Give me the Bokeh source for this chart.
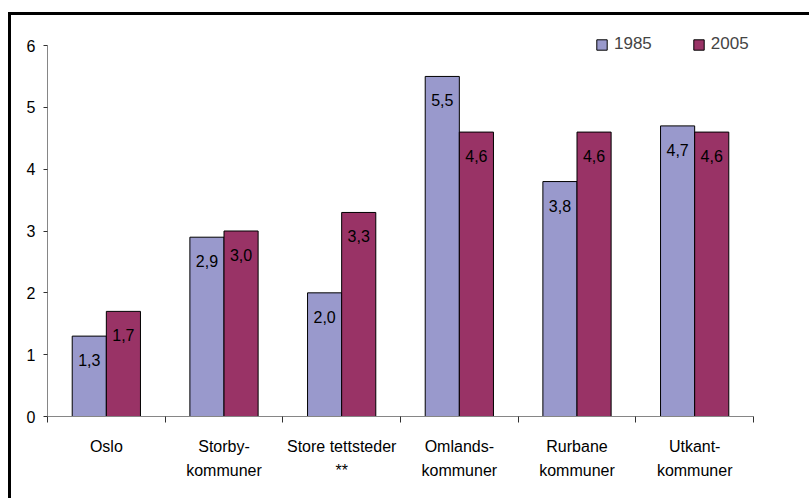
from bokeh.plotting import figure
from bokeh.models import ColumnDataSource, FixedTicker, Legend, LegendItem, Range1d, Div, Spacer
from bokeh.layouts import row, column
from bokeh.core.properties import value
from bokeh.embed import file_html
from bokeh.resources import INLINE

categories = ["Oslo", "Storby-\nkommuner", "Store tettsteder\n**",
              "Omlands-\nkommuner", "Rurbane\nkommuner", "Utkant-\nkommuner"]
series_names = ["1985", "2005"]
values_1985 = [1.3, 2.9, 2.0, 5.5, 3.8, 4.7]
values_2005 = [1.7, 3.0, 3.3, 4.6, 4.6, 4.6]
y_ticks = [0, 1, 2, 3, 4, 5, 6]
colors = ["#9999CC", "#993366"]

FONT = "Liberation Sans"
W, H = 798, 483


def fmt(v):
    return f"{v:.1f}".replace(".", ",")


n = len(categories)
idx = list(range(1, n + 1))
bw = 0.29

p = figure(width=W, height=H, x_range=Range1d(0.5, n + 0.5), y_range=Range1d(0, 6.243),
           output_backend="svg", toolbar_location=None,
           min_border_left=36, min_border_top=15, min_border_right=56, min_border_bottom=82)
p.margin = 0
p.outline_line_color = None
p.xgrid.grid_line_color = None
p.ygrid.grid_line_color = None
p.background_fill_color = "white"
p.border_fill_color = "white"

renderers = []
for k, (vals, col, off) in enumerate([(values_1985, colors[0], -bw / 2), (values_2005, colors[1], bw / 2)]):
    src = ColumnDataSource(dict(x=[i + off for i in idx], top=vals, label=[fmt(v) for v in vals]))
    r = p.vbar(x="x", top="top", bottom=0, width=bw, source=src,
               fill_color=col, line_color="black", line_width=1)
    renderers.append(r)
    p.text(x="x", y="top", text="label", source=src, text_align="center",
           text_baseline="middle", y_offset=24, text_font=value(FONT),
           text_font_size="16px", text_color="black")

# x axis
xa = p.xaxis[0]
xa.ticker = FixedTicker(ticks=idx, minor_ticks=[i + 0.5 for i in range(0, n + 1)])
xa.major_label_overrides = {i: c for i, c in zip(idx, categories)}
xa.major_tick_out = 0
xa.major_tick_in = 0
xa.minor_tick_out = 6
xa.minor_tick_in = 0
xa.minor_tick_line_color = "#303030"
xa.axis_line_color = "#868686"
xa.major_label_standoff = 15
xa.major_label_text_font = FONT
xa.major_label_text_font_size = "16px"
xa.major_label_text_color = "black"
xa.major_label_text_line_height = 1.45

ya = p.yaxis[0]
ya.ticker = FixedTicker(ticks=y_ticks, minor_ticks=[])
ya.bounds = (0, 6)
ya.major_tick_out = 4
ya.major_tick_in = 0
ya.major_tick_line_color = "#303030"
ya.minor_tick_line_color = None
ya.axis_line_color = "#868686"
ya.major_label_standoff = 8
ya.major_label_text_font = FONT
ya.major_label_text_font_size = "16px"
ya.major_label_text_color = "black"

legend = Legend(items=[LegendItem(label=series_names[0], renderers=[renderers[0]]),
                       LegendItem(label=series_names[1], renderers=[renderers[1]])],
                orientation="horizontal", location=(548, 362),
                glyph_width=13, glyph_height=13, label_height=13, label_standoff=6,
                spacing=40, padding=0, margin=0, border_line_color=None,
                background_fill_alpha=0, label_text_font=FONT, label_text_font_size="17px")
p.add_layout(legend, "center")

top_bar = Div(text="", width=801, height=3, margin=0, styles={"background-color": "black"})
left_bar = Div(text="", width=3, height=H, margin=0, styles={"background-color": "black"})
layout = row(Spacer(width=8, margin=0),
             column(Spacer(height=12, margin=0), top_bar,
                    row(left_bar, p, spacing=0, margin=0), spacing=0, margin=0),
             spacing=0, margin=0)

open("out.html", "w").write(file_html(layout, INLINE))
